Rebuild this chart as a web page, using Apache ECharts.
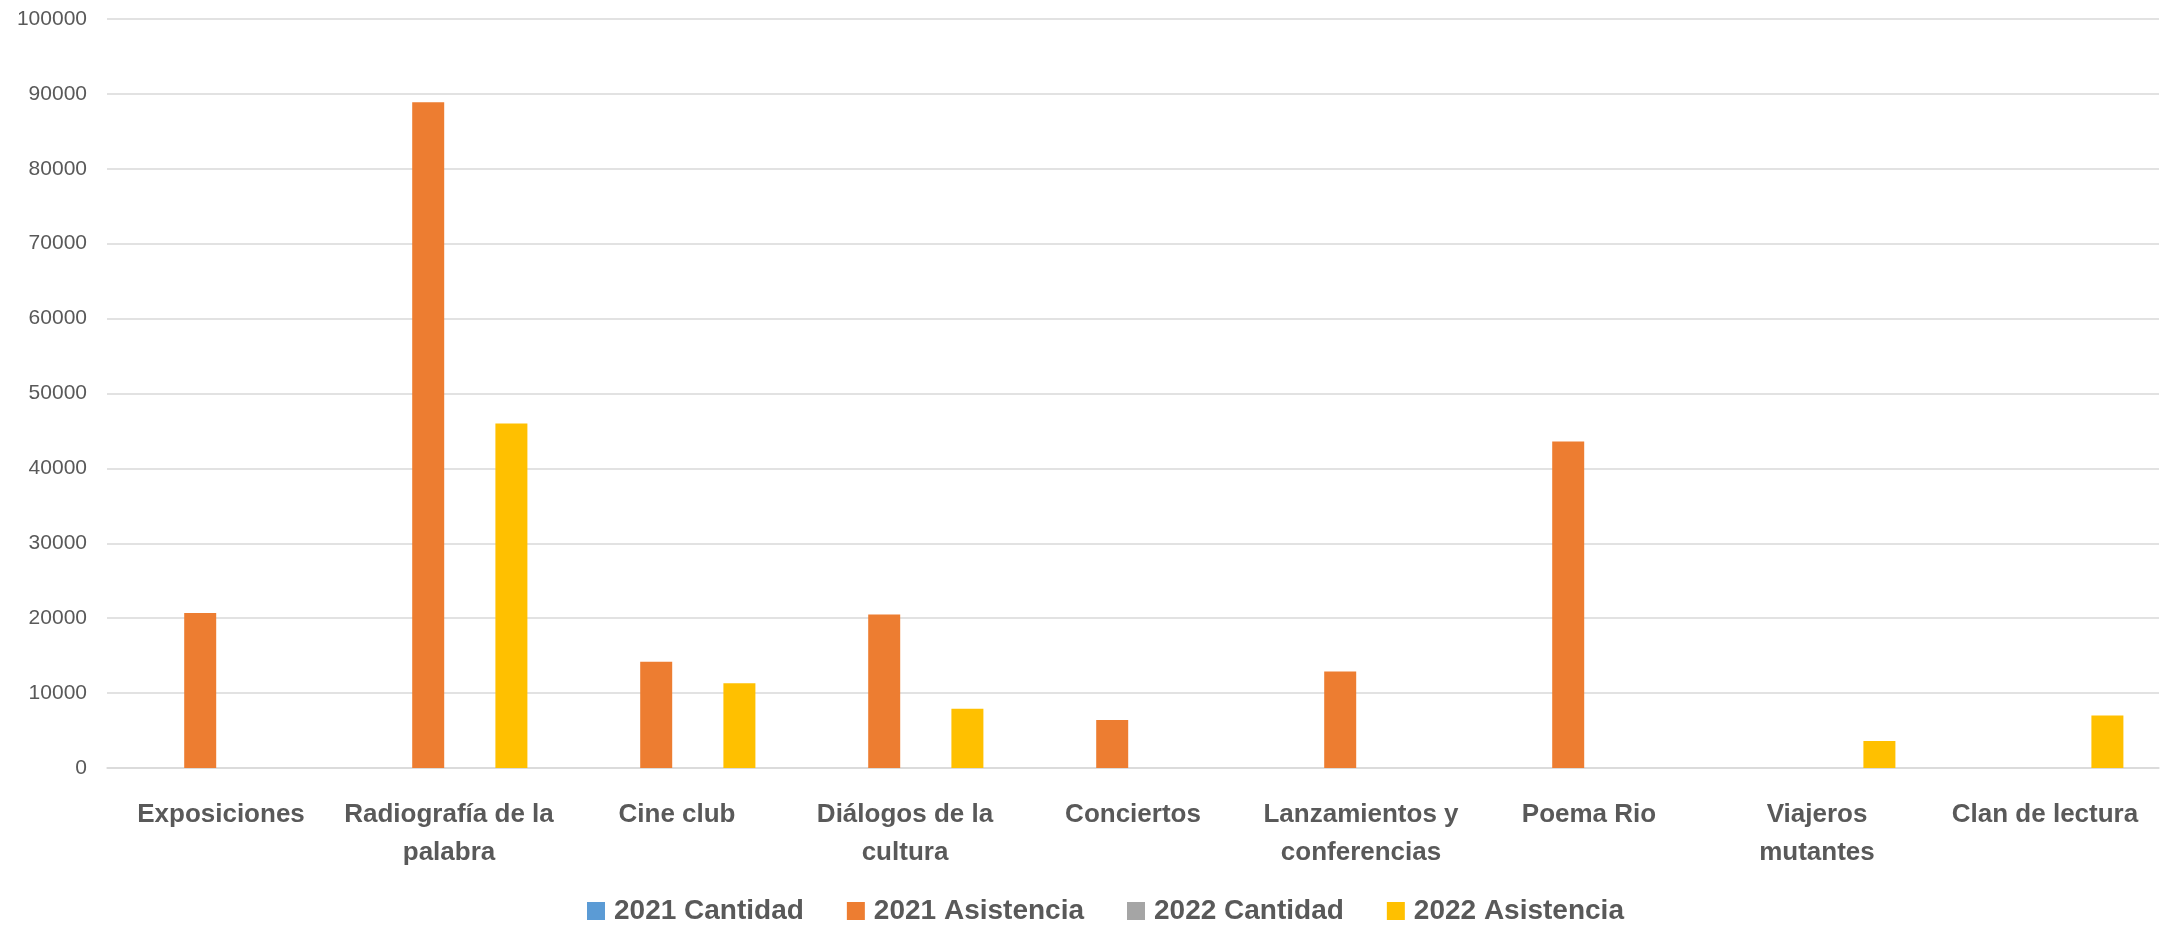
<!DOCTYPE html>
<html>
<head>
<meta charset="utf-8">
<script src="https://cdn.jsdelivr.net/npm/echarts@6/dist/echarts.min.js"></script>
<style>
html,body{margin:0;padding:0;background:#fff;}
#chart{width:2162px;height:925px;}
</style>
</head>
<body>
<div id="chart"></div>
<script>
const categories = ["Exposiciones","Radiografía de la palabra","Cine club","Diálogos de la cultura","Conciertos","Lanzamientos y conferencias","Poema Rio","Viajeros mutantes","Clan de lectura"];
const categoryLabels = ["Exposiciones","Radiografía de la\npalabra","Cine club","Diálogos de la\ncultura","Conciertos","Lanzamientos y\nconferencias","Poema Rio","Viajeros\nmutantes","Clan de lectura"];
const seriesNames = ["2021 Cantidad","2021 Asistencia","2022 Cantidad","2022 Asistencia"];
const cantidad2021 = [0,0,0,0,0,0,0,0,0];
const asistencia2021 = [20700,88900,14200,20500,6400,12900,43600,0,0];
const cantidad2022 = [0,0,0,0,0,0,0,0,0];
const asistencia2022 = [0,46000,11300,7900,0,0,0,3600,7000];
const yTicks = [0,10000,20000,30000,40000,50000,60000,70000,80000,90000,100000];

const colors = ["#5B9BD5","#ED7D31","#A5A5A5","#FFC000"];
const FONT = "'Liberation Sans',Arial,sans-serif";
const chart = echarts.init(document.getElementById('chart'));
const dataSets = [cantidad2021, asistencia2021, cantidad2022, asistencia2022];
chart.setOption({
  animation:false,
  color: colors,
  grid:{left:107,right:3,top:19,bottom:157,containLabel:false},
  legend:{
    top:890,left:582,
    itemWidth:18,itemHeight:18,itemGap:43,
    icon:'rect',
    textStyle:{fontFamily:FONT,fontSize:28,fontWeight:'bold',color:'#595959',lineHeight:32,padding:[0,0,0,4]},
    data:seriesNames
  },
  xAxis:{
    type:'category',
    data:categories,
    axisLine:{show:true,lineStyle:{color:'#D9D9D9',width:1.5}},
    axisTick:{show:false},
    axisLabel:{
      interval:0,margin:28,
      fontFamily:FONT,fontSize:26,fontWeight:'bold',color:'#595959',lineHeight:38,
      formatter:(v,i)=>categoryLabels[i]
    }
  },
  yAxis:{
    type:'value',min:yTicks[0],max:yTicks[yTicks.length-1],interval:yTicks[1]-yTicks[0],
    axisLine:{show:false},axisTick:{show:false},
    splitLine:{lineStyle:{color:'#D9D9D9',width:1.5}},
    axisLabel:{margin:20,fontFamily:FONT,fontSize:21,color:'#595959',formatter:v=>String(v)}
  },
  series: seriesNames.map((n,i)=>({
    name:n,type:'bar',data:dataSets[i],
    barWidth:32,barGap:'30%',barCategoryGap:'31%'
  }))
});
</script>
</body>
</html>
